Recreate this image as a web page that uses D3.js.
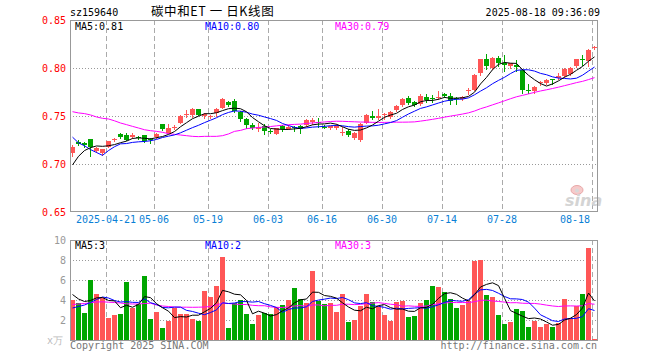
<!DOCTYPE html>
<html>
<head>
<meta charset="utf-8">
<script src="https://cdn.jsdelivr.net/npm/d3@7"></script>
<style>
  body { margin: 0; background: #fff; }
  text { font-family: 'DejaVu Sans Mono', monospace; font-size: 10px; }
</style>
</head>
<body>
<script>
// trading days 2025-04-11 .. 2025-08-18
const dates = ['04-11', '04-14', '04-15', '04-16', '04-17', '04-18', '04-21', '04-22', '04-23', '04-24',
  '04-25', '04-28', '04-29', '04-30', '05-06', '05-07', '05-08', '05-09', '05-12', '05-13',
  '05-14', '05-15', '05-16', '05-19', '05-20', '05-21', '05-22', '05-23', '05-26', '05-27',
  '05-28', '05-29', '05-30', '06-03', '06-04', '06-05', '06-06', '06-09', '06-10', '06-11',
  '06-12', '06-13', '06-16', '06-17', '06-18', '06-19', '06-20', '06-23', '06-24', '06-25',
  '06-26', '06-27', '06-30', '07-01', '07-02', '07-03', '07-04', '07-07', '07-08', '07-09',
  '07-10', '07-11', '07-14', '07-15', '07-16', '07-17', '07-18', '07-21', '07-22', '07-23',
  '07-24', '07-25', '07-28', '07-29', '07-30', '07-31', '08-01', '08-04', '08-05', '08-06',
  '08-07', '08-08', '08-11', '08-12', '08-13', '08-14', '08-15', '08-18']

const opens = [0.711, 0.723, 0.722, 0.726, 0.714, 0.711, 0.718, 0.725, 0.731, 0.730,
  0.728, 0.728, 0.730, 0.726, 0.728, 0.742, 0.732, 0.738, 0.743, 0.751,
  0.751, 0.757, 0.750, 0.749, 0.753, 0.758, 0.765, 0.766, 0.754, 0.747,
  0.741, 0.736, 0.740, 0.734, 0.731, 0.740, 0.736, 0.739, 0.740, 0.741,
  0.744, 0.744, 0.739, 0.738, 0.738, 0.732, 0.734, 0.727, 0.725, 0.743,
  0.750, 0.748, 0.751, 0.749, 0.756, 0.761, 0.769, 0.765, 0.762, 0.770,
  0.769, 0.769, 0.773, 0.771, 0.769, 0.768, 0.776, 0.777, 0.795, 0.809,
  0.800, 0.810, 0.805, 0.802, 0.803, 0.798, 0.777, 0.776, 0.784, 0.784,
  0.789, 0.790, 0.792, 0.794, 0.802, 0.809, 0.807, 0.821]

const highs = [0.720, 0.725, 0.723, 0.726, 0.718, 0.716, 0.724, 0.727, 0.732, 0.732,
  0.732, 0.729, 0.730, 0.727, 0.732, 0.742, 0.742, 0.741, 0.751, 0.756,
  0.758, 0.757, 0.753, 0.751, 0.758, 0.769, 0.766, 0.768, 0.755, 0.748,
  0.743, 0.743, 0.742, 0.736, 0.738, 0.741, 0.741, 0.740, 0.741, 0.747,
  0.748, 0.748, 0.741, 0.740, 0.742, 0.739, 0.736, 0.733, 0.743, 0.752,
  0.755, 0.757, 0.753, 0.755, 0.761, 0.769, 0.771, 0.766, 0.773, 0.773,
  0.772, 0.776, 0.774, 0.774, 0.770, 0.771, 0.779, 0.794, 0.809, 0.815,
  0.811, 0.812, 0.814, 0.805, 0.808, 0.799, 0.783, 0.781, 0.786, 0.789,
  0.789, 0.795, 0.800, 0.801, 0.809, 0.814, 0.820, 0.823]

const lows = [0.708, 0.720, 0.718, 0.708, 0.713, 0.709, 0.718, 0.724, 0.727, 0.725,
  0.727, 0.726, 0.723, 0.722, 0.727, 0.735, 0.732, 0.736, 0.743, 0.749,
  0.749, 0.751, 0.748, 0.748, 0.750, 0.758, 0.760, 0.754, 0.745, 0.737,
  0.736, 0.734, 0.731, 0.732, 0.731, 0.734, 0.736, 0.734, 0.732, 0.740,
  0.742, 0.739, 0.737, 0.736, 0.736, 0.730, 0.729, 0.726, 0.724, 0.743,
  0.747, 0.747, 0.747, 0.748, 0.755, 0.760, 0.763, 0.760, 0.761, 0.765,
  0.765, 0.768, 0.770, 0.763, 0.763, 0.767, 0.773, 0.777, 0.793, 0.799,
  0.799, 0.802, 0.797, 0.800, 0.797, 0.774, 0.774, 0.774, 0.782, 0.783,
  0.783, 0.789, 0.791, 0.793, 0.801, 0.803, 0.802, 0.820]

const closes = [0.718, 0.721, 0.720, 0.718, 0.717, 0.716, 0.724, 0.726, 0.728, 0.725,
  0.730, 0.727, 0.724, 0.725, 0.731, 0.736, 0.738, 0.739, 0.750, 0.752,
  0.757, 0.751, 0.752, 0.750, 0.757, 0.768, 0.761, 0.755, 0.747, 0.741,
  0.738, 0.739, 0.734, 0.733, 0.738, 0.736, 0.739, 0.737, 0.736, 0.746,
  0.746, 0.743, 0.738, 0.740, 0.740, 0.733, 0.730, 0.732, 0.742, 0.751,
  0.748, 0.750, 0.752, 0.754, 0.760, 0.768, 0.764, 0.761, 0.771, 0.767,
  0.768, 0.770, 0.771, 0.766, 0.768, 0.770, 0.777, 0.793, 0.809, 0.802,
  0.810, 0.805, 0.803, 0.805, 0.801, 0.777, 0.776, 0.780, 0.785, 0.788,
  0.788, 0.792, 0.799, 0.800, 0.809, 0.808, 0.819, 0.822]

// volume, 万
const volumes = [4.0, 3.73, 2.7, 6.03, 4.6, 4.2, 2.23, 2.5, 2.6, 5.83,
  3.23, 3.63, 6.4, 2.1, 2.8, 1.2, 1.9, 3.2, 2.6, 2.6,
  2.1, 1.9, 4.9, 4.3, 5.4, 8.3, 1.2, 3.7, 4.0, 2.6,
  1.6, 2.5, 2.7, 2.6, 3.3, 3.5, 4.0, 5.2, 4.1, 3.7,
  6.93, 3.9, 3.6, 3.7, 2.8, 4.6, 1.8, 2.0, 3.4, 4.6,
  3.8, 3.4, 2.5, 1.9, 3.8, 3.9, 2.3, 2.4, 3.7, 4.0,
  5.4, 5.3, 4.8, 4.13, 3.2, 3.5, 3.9, 7.9, 8.0, 4.5,
  4.3, 2.5, 1.6, 1.8, 3.1, 2.9, 1.3, 1.9, 1.3, 1.6,
  1.3, 1.7, 4.1, 2.2, 3.4, 4.6, 9.2, 0.1]

// moving averages at the left edge (their windows start before the first candle)
const ma5Head = [0.699, 0.708, 0.714, 0.717]
const ma10Head = [0.728, 0.722, 0.719, 0.715, 0.712, 0.709, 0.714, 0.718, 0.721]
const ma30Head = [0.7545, 0.7532, 0.7525, 0.7511, 0.749, 0.7476, 0.7469, 0.745, 0.7427, 0.741,
  0.7392, 0.7375, 0.7357, 0.7347, 0.734, 0.733, 0.7316, 0.7309, 0.7302, 0.7295,
  0.7288, 0.7285, 0.7288, 0.7288, 0.7288, 0.7295, 0.7313, 0.734, 0.735]
const volMa5Head = [4.55, 4.1, 3.85, 3.95]
const volMa10Head = [3.2, 3.35, 3.5, 3.75, 4.05, 4.3, 4.2, 3.95, 3.8]
const volMa30Head = [3.55, 3.6, 3.65, 3.72, 3.8, 3.82, 3.78, 3.75, 3.7, 3.62,
  3.6, 3.6, 3.65, 3.68, 3.5, 3.4, 3.35, 3.3, 3.28, 3.28,
  3.27, 3.28, 3.3, 3.35, 3.5, 3.7, 3.65, 3.6, 3.55]

const priceTicks = [0.65, 0.70, 0.75, 0.80, 0.85]
const volTicks = [2, 4, 6, 8, 10]
const dateTicks = ['04-21', '05-06', '05-19', '06-03', '06-16', '06-30', '07-14', '07-28', '08-18']
const dateLabels = ['2025-04-21', '05-06', '05-19', '06-03', '06-16', '06-30', '07-14', '07-28', '08-18']

const vermelho = '#ff5656'
const verde = '#00a600'

function media (valores, n, inicio) {
  return valores.map(function (v, i) {
    if (i < n - 1) return inicio[i]
    return d3.mean(valores.slice(i - n + 1, i + 1))
  })
}

const ma5 = media(closes, 5, ma5Head)
const ma10 = media(closes, 10, ma10Head)
const ma30 = media(closes, 30, ma30Head)
const vma5 = media(volumes, 5, volMa5Head)
const vma10 = media(volumes, 10, volMa10Head)
const vma30 = media(volumes, 30, volMa30Head)

var svg = d3.select('body').append('svg')
  .attr('width', 660)
  .attr('height', 360)

var x = d3.scaleBand().domain(dates).range([70, 598])
var y = d3.scaleLinear().domain([0.65, 0.85]).range([212, 20])
var yVol = d3.scaleLinear().domain([0, 10]).range([340, 240])

// grid
svg.append('g').selectAll('line')
  .data(priceTicks.slice(1, -1))
  .join('line')
    .attr('x1', 70).attr('x2', 598)
    .attr('y1', d => Math.round(y(d)) + 0.5)
    .attr('y2', d => Math.round(y(d)) + 0.5)
    .attr('stroke', '#999')
    .attr('stroke-dasharray', '1,2')

svg.append('g').selectAll('line')
  .data(volTicks.slice(0, -1))
  .join('line')
    .attr('x1', 70).attr('x2', 598)
    .attr('y1', d => Math.round(yVol(d)) + 0.5)
    .attr('y2', d => Math.round(yVol(d)) + 0.5)
    .attr('stroke', '#999')
    .attr('stroke-dasharray', '1,2')

var grade = svg.append('g')
dateTicks.forEach(function (d) {
  [[20, 212], [240, 340]].forEach(function (faixa) {
    grade.append('line')
      .attr('x1', x(d) + 0.5).attr('x2', x(d) + 0.5)
      .attr('y1', faixa[0]).attr('y2', faixa[1])
      .attr('stroke', '#aaa')
      .attr('stroke-dasharray', '5,3')
  })
})

// watermark
var marca = svg.append('g').attr('transform', 'translate(565,186)')
marca.append('ellipse').attr('cx', 12).attr('cy', 4).attr('rx', 6).attr('ry', 4.5)
  .attr('fill', '#f6caca').attr('stroke', '#e8a8a8')
marca.append('circle').attr('cx', 12).attr('cy', 4.5).attr('r', 2).attr('fill', '#d8d8d8')
marca.append('text')
  .attr('x', 0).attr('y', 20)
  .style('font-family', 'DejaVu Sans')
  .style('font-size', '16px')
  .style('font-weight', 'bold')
  .style('font-style', 'italic')
  .attr('fill', '#d4d4d4')
  .text('sina')

// candles
var velas = svg.append('g')
dates.forEach(function (d, i) {
  var cor = closes[i] >= opens[i] ? vermelho : verde
  var cx = x(d) + 2.5
  velas.append('line')
    .attr('x1', cx).attr('x2', cx)
    .attr('y1', Math.round(y(highs[i])))
    .attr('y2', Math.round(y(lows[i])) + 1)
    .attr('stroke', cor)
  var topo = Math.round(y(Math.max(opens[i], closes[i])))
  var base = Math.round(y(Math.min(opens[i], closes[i])))
  velas.append('rect')
    .attr('x', x(d))
    .attr('y', topo)
    .attr('width', 5)
    .attr('height', Math.max(1, base - topo))
    .attr('fill', cor)

  svg.append('rect')
    .attr('x', x(d))
    .attr('y', Math.round(yVol(volumes[i])))
    .attr('width', 5)
    .attr('height', Math.max(1, 340 - Math.round(yVol(volumes[i]))))
    .attr('fill', cor)
})

// moving average lines
function desenhaLinha (valores, escala, cor) {
  var linha = d3.line()
    .x(function (v, i) { return x(dates[i]) + 2.5 })
    .y(function (v) { return escala(v) })
  svg.append('path')
    .attr('d', linha(valores))
    .attr('fill', 'none')
    .attr('stroke', cor)
    .attr('stroke-width', 1)
}

desenhaLinha(ma30, y, '#f0f')
desenhaLinha(ma10, y, '#00f')
desenhaLinha(ma5, y, '#000')
desenhaLinha(vma30, yVol, '#f0f')
desenhaLinha(vma10, yVol, '#00f')
desenhaLinha(vma5, yVol, '#000')

// frames
svg.append('rect').attr('x', 70.5).attr('y', 20.5).attr('width', 527).attr('height', 191)
  .attr('fill', 'none').attr('stroke', '#999')
svg.append('rect').attr('x', 70.5).attr('y', 240.5).attr('width', 527).attr('height', 100)
  .attr('fill', 'none').attr('stroke', '#999')

// axes
var eixoPreco = svg.append('g')
  .attr('transform', 'translate(70,0)')
  .call(d3.axisLeft(y).tickValues(priceTicks).tickSize(0).tickPadding(4).tickFormat(d3.format('.2f')))
eixoPreco.select('.domain').remove()
eixoPreco.selectAll('text').attr('fill', '#f00').style('font-size', '10px')

var eixoVol = svg.append('g')
  .attr('transform', 'translate(70,0)')
  .call(d3.axisLeft(yVol).tickValues(volTicks).tickSize(0).tickPadding(4))
eixoVol.select('.domain').remove()
eixoVol.selectAll('text').attr('fill', '#999').style('font-size', '10px')

var eixoData = svg.append('g')
  .attr('transform', 'translate(-3,212)')
  .call(d3.axisBottom(x).tickValues(dateTicks).tickSize(0).tickPadding(4)
    .tickFormat(function (d) { return dateLabels[dateTicks.indexOf(d)] }))
eixoData.select('.domain').remove()
eixoData.selectAll('text').attr('fill', '#0a7fd6').style('font-size', '10px')
eixoData.selectAll('.tick:last-child text').attr('text-anchor', 'end').attr('dx', '-2')

svg.append('text').attr('x', 63).attr('y', 344)
  .attr('text-anchor', 'end').attr('fill', '#bbb')
  .style('font-size', '10px')
  .text('x万')

// legends
var fmt = d3.format('.2f')
svg.append('text').attr('x', 75).attr('y', 30).attr('fill', '#000').text('MA5:' + fmt(ma5[ma5.length - 1]))
svg.append('text').attr('x', 205).attr('y', 30).attr('fill', '#00f').text('MA10:' + fmt(ma10[ma10.length - 1]))
svg.append('text').attr('x', 335).attr('y', 30).attr('fill', '#f0f').text('MA30:' + fmt(ma30[ma30.length - 1]))
svg.append('text').attr('x', 75).attr('y', 249).attr('fill', '#000').text('MA5:' + Math.floor(vma5[vma5.length - 1]))
svg.append('text').attr('x', 205).attr('y', 249).attr('fill', '#00f').text('MA10:' + Math.floor(vma10[vma10.length - 1]))
svg.append('text').attr('x', 335).attr('y', 249).attr('fill', '#f0f').text('MA30:' + Math.floor(vma30[vma30.length - 1]))

// header
svg.append('text').attr('x', 70).attr('y', 16).attr('fill', '#000').text('sz159640')
svg.append('text').attr('x', 151).attr('y', 16).attr('fill', '#000')
  .style('font-family', "'Noto Sans CJK SC', sans-serif")
  .style('font-size', '12.5px')
  .style('letter-spacing', '0.6px')
  .text('碳中和ET 一 日K线图')
svg.append('text').attr('x', 600).attr('y', 16).attr('text-anchor', 'end').attr('fill', '#000')
  .text('2025-08-18 09:36:09')

// footer
svg.append('text').attr('x', 70).attr('y', 349).attr('fill', '#777').text('Copyright 2025 SINA.COM')
svg.append('text').attr('x', 597).attr('y', 349).attr('text-anchor', 'end').attr('fill', '#777')
  .text('http://finance.sina.com.cn')
</script>
</body>
</html>
